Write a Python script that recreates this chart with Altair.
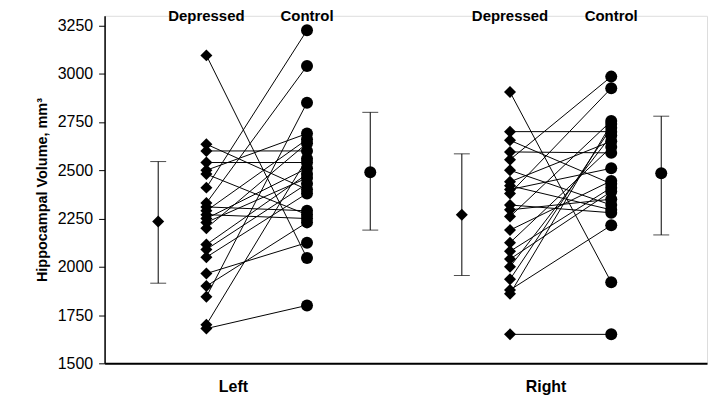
import altair as alt
import pandas as pd

# ---- data ----
left_depressed = [3095, 2635, 2600, 2540, 2500, 2480, 2410, 2330, 2310, 2290, 2270,
                  2250, 2230, 2200, 2115, 2090, 2050, 1965, 1900, 1845, 1700, 1680]
left_control = [2045, 2400, 2600, 2540, 2690, 2270, 3225, 3040, 2290, 2660, 2250,
                2510, 2460, 2640, 2480, 2430, 2380, 2125, 2230, 2850, 2560, 1800]
right_depressed = [2905, 2700, 2655, 2595, 2555, 2500, 2440, 2420, 2400, 2380, 2320,
                   2295, 2260, 2190, 2125, 2080, 2040, 2000, 1935, 1880, 1860, 1650]
right_control = [1920, 2700, 2430, 2590, 2985, 2320, 2650, 2295, 2510, 2925, 2280,
                 2350, 2755, 2445, 2620, 2410, 2390, 2680, 2720, 2215, 2740, 1650]

sides = ["Left", "Right"]
groups = ["Depressed", "Control"]
summary_mean = {"Left": [2235, 2490], "Right": [2270, 2485]}
summary_low = {"Left": [1915, 2190], "Right": [1955, 2165]}
summary_high = {"Left": [2545, 2800], "Right": [2585, 2780]}
y_ticks = [1500, 1750, 2000, 2250, 2500, 2750, 3000, 3250]

# ---- layout positions on a 0-100 x scale ----
pos_points = {("Left", "Depressed"): 16.9, ("Left", "Control"): 33.6,
              ("Right", "Depressed"): 67.3, ("Right", "Control"): 84.1}
pos_summary = {("Left", "Depressed"): 8.9, ("Left", "Control"): 44.1,
               ("Right", "Depressed"): 59.3, ("Right", "Control"): 92.4}
pos_side_label = [21.3, 73.2]

rows = []
for side, dep, ctl in [("Left", left_depressed, left_control),
                       ("Right", right_depressed, right_control)]:
    for i, (d, c) in enumerate(zip(dep, ctl)):
        sid = f"{side}-{i}"
        rows.append({"id": sid, "side": side, "group": "Depressed",
                     "x": pos_points[(side, "Depressed")], "v": d})
        rows.append({"id": sid, "side": side, "group": "Control",
                     "x": pos_points[(side, "Control")], "v": c})
df = pd.DataFrame(rows)

srows = []
for side in sides:
    for gi, g in enumerate(groups):
        srows.append({"side": side, "group": g, "x": pos_summary[(side, g)],
                      "mean": summary_mean[side][gi], "lo": summary_low[side][gi],
                      "hi": summary_high[side][gi]})
sdf = pd.DataFrame(srows)

hdf = pd.DataFrame([{"x": pos_points[(s, g)], "y": 3300, "label": g}
                    for s in sides for g in groups])

xscale = alt.Scale(domain=[0, 100])
yscale = alt.Scale(domain=[1500, 3300], nice=False, zero=False)
shape_scale = alt.Scale(domain=groups, range=["diamond", "circle"])

X = alt.X("x:Q", scale=xscale,
          axis=alt.Axis(values=pos_side_label,
                        labelExpr="datum.value < 50 ? 'Left' : 'Right'",
                        ticks=False, grid=False, title=None, labelFontWeight="bold",
                        labelFontSize=16, labelPadding=15, domainColor="black",
                        domainWidth=2, labelColor="black"))
Y = alt.Y("v:Q", scale=yscale,
          axis=alt.Axis(values=y_ticks, format="d", grid=False,
                        title="Hippocampal Volume, mm³",
                        titleFontSize=14.5, titleFontWeight="bold", titlePadding=8,
                        labelFontSize=16, tickSize=6, domainColor="black",
                        tickColor="black", labelColor="black", titleColor="black",
                        domainWidth=1.5, labelPadding=6))

lines = alt.Chart(df).mark_line(color="black", strokeWidth=1).encode(
    x=X, y=Y, detail="id:N")

pts = alt.Chart(df).mark_point(filled=True, color="black", size=145, opacity=1).encode(
    x=alt.X("x:Q", scale=xscale), y=alt.Y("v:Q", scale=yscale),
    shape=alt.Shape("group:N", scale=shape_scale, legend=None))

rule = alt.Chart(sdf).mark_rule(color="black", strokeWidth=1).encode(
    x=alt.X("x:Q", scale=xscale), y=alt.Y("lo:Q", scale=yscale), y2="hi:Q")

cap_lo = alt.Chart(sdf).mark_tick(color="black", orient="horizontal", size=16,
                                  thickness=1).encode(
    x=alt.X("x:Q", scale=xscale), y=alt.Y("lo:Q", scale=yscale))
cap_hi = alt.Chart(sdf).mark_tick(color="black", orient="horizontal", size=16,
                                  thickness=1).encode(
    x=alt.X("x:Q", scale=xscale), y=alt.Y("hi:Q", scale=yscale))

mean_pts = alt.Chart(sdf).mark_point(filled=True, color="black", size=145,
                                     opacity=1).encode(
    x=alt.X("x:Q", scale=xscale), y=alt.Y("mean:Q", scale=yscale),
    shape=alt.Shape("group:N", scale=shape_scale, legend=None))

headers = alt.Chart(hdf).mark_text(fontSize=15, fontWeight="bold", color="black",
                                   baseline="middle", font="Liberation Sans").encode(
    x=alt.X("x:Q", scale=xscale), y=alt.Y("y:Q", scale=yscale), text="label:N")

chart = alt.layer(lines, pts, rule, cap_lo, cap_hi, mean_pts, headers).properties(
    width=605, height=349,
    autosize=alt.AutoSizeParams(type="none"),
    padding={"left": 97, "top": 7, "right": 5, "bottom": 35},
).configure_view(stroke=None).configure_axis(
    labelFont="Liberation Sans", titleFont="Liberation Sans"
).configure(background="white")

chart.save("out.html", embed_options={"renderer": "svg", "actions": False})
